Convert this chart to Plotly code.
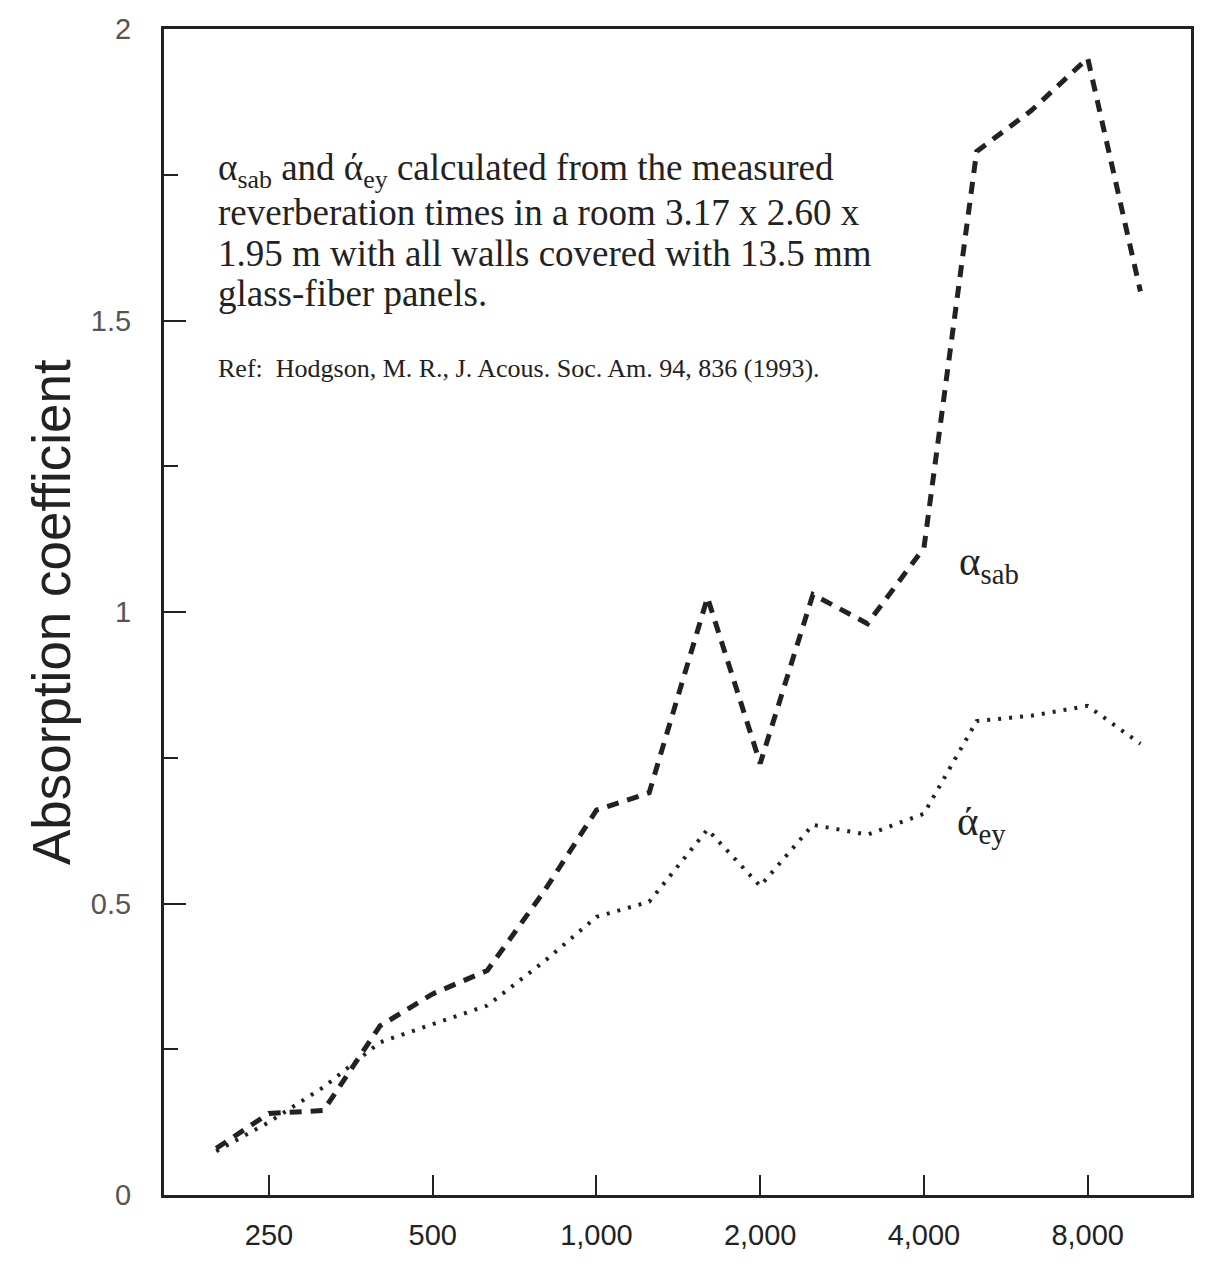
import plotly.graph_objects as go

# third-octave band centre frequencies (Hz)
freq = [200, 250, 315, 400, 500, 630, 800, 1000, 1250, 1600, 2000,
        2500, 3150, 4000, 5000, 6300, 8000, 10000]
# Sabine absorption coefficient
alpha_sab = [0.08, 0.14, 0.145, 0.29, 0.345, 0.385, 0.52, 0.66, 0.69, 1.025, 0.74,
             1.03, 0.98, 1.11, 1.79, 1.86, 1.95, 1.55]
# Eyring absorption coefficient
alpha_ey = [0.075, 0.125, 0.185, 0.262, 0.293, 0.325, 0.40, 0.477, 0.503, 0.627, 0.53,
            0.635, 0.618, 0.654, 0.813, 0.822, 0.839, 0.774]

x_ticks = [250, 500, 1000, 2000, 4000, 8000]
x_labels = ["250", "500", "1,000", "2,000", "4,000", "8,000"]
y_ticks = [0, 0.5, 1, 1.5, 2]
y_labels = ["0", "0.5", "1", "1.5", "2"]

note_lines = [
    "α<sub>sab</sub> and ά<sub>ey</sub> calculated from the measured",
    "reverberation times in a room 3.17 x 2.60 x",
    "1.95 m with all walls covered with 13.5 mm",
    "glass-fiber panels.",
]
ref_text = "Ref:  Hodgson, M. R., J. Acous. Soc. Am. 94, 836 (1993)."

INK = "#222222"
serif = "Liberation Serif, Times New Roman, serif"
sans = "Liberation Sans, Arial, sans-serif"

fig = go.Figure()
fig.add_trace(go.Scatter(x=freq, y=alpha_sab, mode="lines", name="α sab",
                         line=dict(color=INK, width=5, dash="12px,9px")))
fig.add_trace(go.Scatter(x=freq, y=alpha_ey, mode="lines", name="ά ey",
                         line=dict(color=INK, width=4, dash="3px,8px")))

fig.update_xaxes(type="log", range=[2.205, 4.093], tickvals=x_ticks, ticktext=x_labels,
                 ticks="inside", ticklen=20, tickwidth=2, tickcolor=INK,
                 showline=True, linewidth=3, linecolor=INK, mirror=True, automargin=False,
                 showgrid=False, zeroline=False, ticklabelstandoff=12,
                 tickfont=dict(family=sans, size=29, color=INK))
fig.update_yaxes(range=[0, 2], tickvals=y_ticks, ticktext=y_labels,
                 ticks="inside", ticklen=22, tickwidth=2, tickcolor=INK,
                 minor=dict(dtick=0.25, ticks="inside", ticklen=14, tickwidth=2, tickcolor=INK),
                 showline=True, linewidth=3, linecolor=INK, mirror=True, automargin=False,
                 showgrid=False, zeroline=False, ticklabelstandoff=24,
                 tickfont=dict(family=sans, size=29, color="#555555"))

fig.add_annotation(xref="paper", yref="paper", x=-0.11, y=0.5, xanchor="center", yanchor="middle",
                   textangle=-90, showarrow=False, text="Absorption coefficient",
                   font=dict(family=sans, size=53, color=INK))

# block of notes, one line per annotation for tight line spacing
note_y = [0.8785, 0.8425, 0.8075, 0.7735]
for line, yy in zip(note_lines, note_y):
    fig.add_annotation(xref="paper", yref="paper", x=0.0505, y=yy, xanchor="left", yanchor="middle",
                       showarrow=False, text=line, font=dict(family=serif, size=37, color=INK))
fig.add_annotation(xref="paper", yref="paper", x=0.0505, y=0.709, xanchor="left", yanchor="middle",
                   showarrow=False, text=ref_text, font=dict(family=serif, size=26, color=INK))

fig.add_annotation(xref="paper", yref="paper", x=0.772, y=0.541, xanchor="left", yanchor="middle",
                   showarrow=False, text="α<sub>sab</sub>",
                   font=dict(family=serif, size=41, color=INK))
fig.add_annotation(xref="paper", yref="paper", x=0.77, y=0.318, xanchor="left", yanchor="middle",
                   showarrow=False, text="ά<sub>ey</sub>",
                   font=dict(family=serif, size=41, color=INK))

fig.update_layout(width=1215, height=1267, showlegend=False,
                  paper_bgcolor="white", plot_bgcolor="white",
                  margin=dict(l=156, r=32, t=21, b=80))
fig.write_html("out.html")
